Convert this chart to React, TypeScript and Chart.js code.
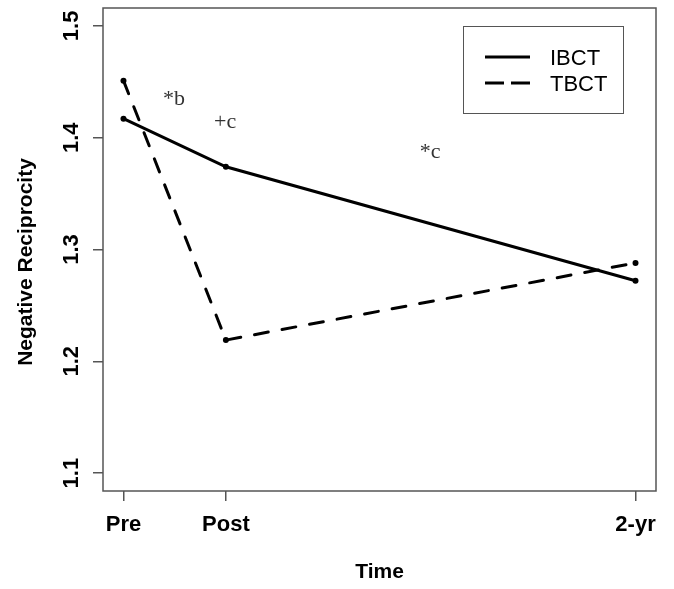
import React, { useEffect, useRef } from "react";
import { Chart, registerables } from "chart.js";

Chart.register(...registerables);

// ---- data ----
const timeLabels = ["Pre", "Post", "2-yr"];
const timePositions = [0, 1, 5];
const ibctValues = [1.417, 1.374, 1.272];
const tbctValues = [1.451, 1.219, 1.288];
const yTickValues = [1.1, 1.2, 1.3, 1.4, 1.5];
const seriesNames = ["IBCT", "TBCT"];
const annotationTexts = ["*b", "+c", "*c"];
const annotationX = [0.386, 0.884, 2.894];
const annotationY = [1.429, 1.409, 1.382];

const SANS = "'Liberation Sans', Arial, sans-serif";
const SERIF = "'Liberation Serif', 'Times New Roman', serif";

const decorPlugin = {
  id: "decor",
  afterDraw(chart: any) {
    const { ctx, chartArea, scales } = chart;
    const xs = scales.x;
    const ys = scales.y;
    ctx.save();
    // plot box
    ctx.strokeStyle = "#555";
    ctx.lineWidth = 1.5;
    ctx.strokeRect(chartArea.left, chartArea.top, chartArea.right - chartArea.left, chartArea.bottom - chartArea.top);

    // y tick labels (rotated)
    ctx.fillStyle = "#000";
    ctx.font = `bold 22px ${SANS}`;
    yTickValues.forEach((v) => {
      const py = ys.getPixelForValue(v);
      ctx.save();
      ctx.translate(chartArea.left - 25, py);
      ctx.rotate(-Math.PI / 2);
      ctx.textAlign = "center";
      ctx.textBaseline = "alphabetic";
      ctx.fillText(v.toFixed(1), 0, 0);
      ctx.restore();
    });

    // axis titles
    ctx.save();
    ctx.font = `bold 21px ${SANS}`;
    ctx.translate(32, 262);
    ctx.rotate(-Math.PI / 2);
    ctx.textAlign = "center";
    ctx.textBaseline = "alphabetic";
    ctx.fillText("Negative Reciprocity", 0, 0);
    ctx.restore();

    ctx.font = `bold 21px ${SANS}`;
    ctx.textAlign = "center";
    ctx.textBaseline = "alphabetic";
    ctx.fillText("Time", (chartArea.left + chartArea.right) / 2, 578);

    // annotations
    ctx.fillStyle = "#333";
    ctx.font = `22px ${SERIF}`;
    ctx.textAlign = "left";
    annotationTexts.forEach((t, i) => {
      ctx.fillText(t, xs.getPixelForValue(annotationX[i]), ys.getPixelForValue(annotationY[i]));
    });

    // legend
    const bx = 463, by = 26, bw = 160, bh = 87;
    ctx.fillStyle = "#fff";
    ctx.fillRect(bx, by, bw, bh);
    ctx.strokeStyle = "#555";
    ctx.lineWidth = 1;
    ctx.strokeRect(bx + 0.5, by + 0.5, bw, bh);
    const rows = [57, 83];
    const dashes = [[], [19, 7]];
    seriesNames.forEach((name, i) => {
      ctx.beginPath();
      ctx.setLineDash(dashes[i]);
      ctx.strokeStyle = "#000";
      ctx.lineWidth = 3;
      ctx.lineCap = "butt";
      ctx.moveTo(485, rows[i]);
      ctx.lineTo(530, rows[i]);
      ctx.stroke();
      ctx.setLineDash([]);
      ctx.fillStyle = "#000";
      ctx.font = `22px ${SANS}`;
      ctx.textAlign = "left";
      ctx.textBaseline = "alphabetic";
      ctx.fillText(name, 550, rows[i] + 8);
    });
    ctx.restore();
  },
};

export default function App() {
  const canvasRef = useRef<HTMLCanvasElement | null>(null);

  useEffect(() => {
    const canvas = canvasRef.current;
    if (!canvas) return;
    const makeData = (vals: number[]) => timePositions.map((x, i) => ({ x, y: vals[i] }));
    const chart = new Chart(canvas, {
      type: "line",
      data: {
        datasets: [
          {
            label: seriesNames[0],
            data: makeData(ibctValues),
            borderColor: "#000",
            backgroundColor: "#000",
            borderWidth: 3,
            pointRadius: 3,
            pointBorderWidth: 0,
            pointBackgroundColor: "#000",
            tension: 0,
          },
          {
            label: seriesNames[1],
            data: makeData(tbctValues),
            borderColor: "#000",
            backgroundColor: "#000",
            borderWidth: 3,
            borderDash: [14, 14],
            borderCapStyle: "round",
            pointRadius: 3,
            pointBorderWidth: 0,
            pointBackgroundColor: "#000",
            tension: 0,
          },
        ],
      },
      options: {
        responsive: false,
        animation: false,
        layout: { padding: { top: 8, right: 18, left: 0, bottom: 0 } },
        plugins: { legend: { display: false }, tooltip: { enabled: false } },
        scales: {
          x: {
            type: "linear",
            min: -0.2,
            max: 5.2,
            afterBuildTicks: (scale: any) => {
              scale.ticks = timePositions.map((v) => ({ value: v }));
            },
            afterFit: (scale: any) => {
              scale.height = 98;
            },
            grid: { drawOnChartArea: false, drawTicks: true, tickLength: 10, color: "#555", lineWidth: 1.5 },
            border: { display: false },
            ticks: {
              autoSkip: false,
              maxRotation: 0,
              padding: 11,
              color: "#000",
              font: { family: SANS, size: 22, weight: "bold" },
              callback: (value: any) => {
                const idx = timePositions.indexOf(Number(value));
                return idx >= 0 ? timeLabels[idx] : "";
              },
            },
          },
          y: {
            type: "linear",
            min: 1.084,
            max: 1.516,
            afterBuildTicks: (scale: any) => {
              scale.ticks = yTickValues.map((v) => ({ value: v }));
            },
            afterFit: (scale: any) => {
              scale.width = 103;
            },
            grid: { drawOnChartArea: false, drawTicks: true, tickLength: 10, color: "#555", lineWidth: 1.5 },
            border: { display: false },
            ticks: { display: false },
          },
        },
      },
      plugins: [decorPlugin],
    } as any);
    return () => chart.destroy();
  }, []);

  return (
    <div style={{ position: "fixed", left: 0, top: 0, width: 674, height: 589, background: "#fff" }}>
      <canvas ref={canvasRef} width={674} height={589} style={{ width: 674, height: 589 }} />
    </div>
  );
}
